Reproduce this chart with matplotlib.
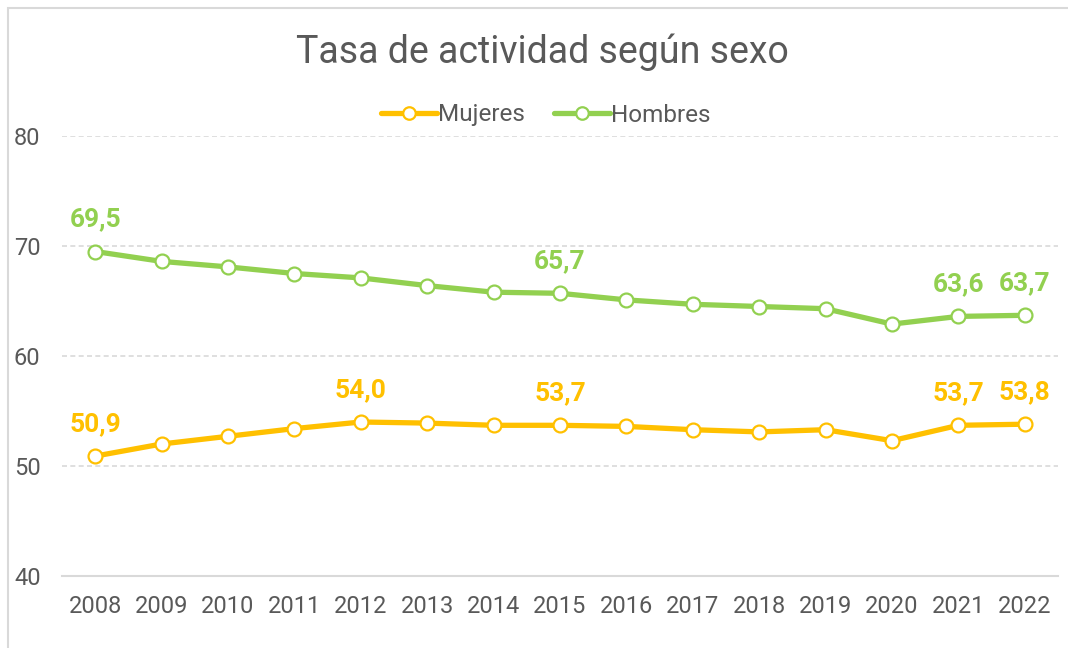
import matplotlib
matplotlib.use("Agg")
import matplotlib.pyplot as plt
from matplotlib.patches import Rectangle

years = [str(y) for y in range(2008, 2023)]
mujeres = [50.9, 52.0, 52.7, 53.4, 54.0, 53.9, 53.7, 53.7, 53.6, 53.3, 53.1, 53.3, 52.3, 53.7, 53.8]
hombres = [69.5, 68.6, 68.1, 67.5, 67.1, 66.4, 65.8, 65.7, 65.1, 64.7, 64.5, 64.3, 62.9, 63.6, 63.7]
lab_mujeres = [0, 4, 7, 13, 14]
lab_hombres = [0, 7, 13, 14]
yticks = [40, 50, 60, 70, 80]

c_muj = "#FFC000"
c_hom = "#92D050"
grey = "#595959"

plt.rcParams['font.family'] = ['Roboto', 'DejaVu Sans']

fig = plt.figure(figsize=(10.68, 6.48), dpi=100)
fig.patches.append(Rectangle((8 / 1068, -0.1), 1.2, 1 - 8 / 648 + 0.1, transform=fig.transFigure,
                             fill=False, edgecolor="#D9D9D9", linewidth=1.5))
ax = fig.add_axes([62 / 1068, 1 - 576 / 648, (1058 - 62) / 1068, 440 / 648])

x = list(range(len(years)))
for vals, col, name, labs in [(mujeres, c_muj, "Mujeres", lab_mujeres),
                              (hombres, c_hom, "Hombres", lab_hombres)]:
    ax.plot(x, vals, color=col, linewidth=3.8, marker="o", markersize=10,
            markerfacecolor="white", markeredgecolor=col, markeredgewidth=1.6,
            label=name, solid_capstyle="round", zorder=3)
    for i in labs:
        ax.annotate(f"{vals[i]:.1f}".replace(".", ","), (i, vals[i]), xytext=(0, 18),
                    textcoords="offset points", ha="center", va="baseline",
                    color=col, fontsize=19, fontweight="bold")

ax.set_xlim(-0.5, len(years) - 0.5)
ax.set_ylim(40, 80)
ax.set_yticks(yticks)
ax.set_xticks(x, years)
ax.tick_params(length=0, labelsize=17, labelcolor=grey)
ax.tick_params(axis="x", pad=14)
ax.tick_params(axis="y", pad=25)
for lbl in ax.get_yticklabels():
    lbl.set_horizontalalignment("center")
for s in ["top", "right", "left"]:
    ax.spines[s].set_visible(False)
ax.spines["bottom"].set_color("#D9D9D9")
ax.spines["bottom"].set_linewidth(1.5)
for v in yticks[1:]:
    ax.axhline(v, color="#D9D9D9", linewidth=1.2, linestyle=(0, (3, 2)), zorder=1)

fig.text(542 / 1068, 1 - 52 / 648, "Tasa de actividad según sexo", ha="center", va="center",
         fontsize=27, color=grey)
fig.legend(loc="center", bbox_to_anchor=(546 / 1068, 1 - 115 / 648), ncol=2, frameon=False,
           fontsize=17.5, labelcolor=grey, handlelength=2.3, handletextpad=0.05, columnspacing=1.2,
           markerscale=0.9)

fig.savefig("out.png", dpi=100)
